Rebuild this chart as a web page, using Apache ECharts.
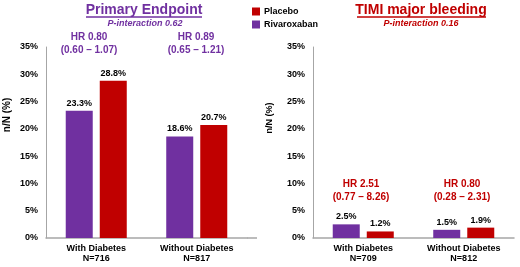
<!DOCTYPE html>
<html>
<head>
<meta charset="utf-8">
<script src="https://cdn.jsdelivr.net/npm/echarts@6/dist/echarts.min.js"></script>
<style>
  html, body { margin: 0; padding: 0; background: #fff; }
  #chart { width: 520px; height: 267px; }
</style>
</head>
<body>
<div id="chart"></div>
<script>
// data
var efficacyCats = ['With Diabetes\nN=716', 'Without Diabetes\nN=817']
var efficacyRiva = [23.3, 18.6]
var efficacyPlacebo = [28.8, 20.7]
var bleedCats = ['With Diabetes\nN=709', 'Without Diabetes\nN=812']
var bleedRiva = [2.5, 1.5]
var bleedPlacebo = [1.2, 1.9]
var efficacyHR = ['HR 0.80\n(0.60 – 1.07)', 'HR 0.89\n(0.65 – 1.21)']
var bleedHR = ['HR 2.51\n(0.77 – 8.26)', 'HR 0.80\n(0.28 – 2.31)']

var PURPLE = '#7030A0'
var RED = '#C00000'
var FONT = '"Liberation Sans", Arial, sans-serif'

function yAxisCfg (idx) {
  return {
    type: 'value',
    gridIndex: idx,
    min: 0,
    max: 35,
    interval: 5,
    axisLine: { show: true, lineStyle: { color: '#a6a6a6', width: 1 } },
    axisTick: { show: false },
    splitLine: { show: false },
    axisLabel: {
      formatter: '{value}%',
      margin: 8,
      color: '#000',
      fontFamily: FONT,
      fontWeight: 'bold',
      fontSize: 9
    }
  }
}

function xAxisCfg (idx, cats) {
  return {
    type: 'category',
    gridIndex: idx,
    data: cats,
    axisLine: { lineStyle: { color: '#a6a6a6', width: 1.5 } },
    axisTick: { show: false },
    axisLabel: {
      margin: 6,
      lineHeight: 10,
      color: '#000',
      fontFamily: FONT,
      fontWeight: 'bold',
      fontSize: 9
    }
  }
}

function barSeries (name, idx, data, color) {
  return {
    name: name,
    type: 'bar',
    xAxisIndex: idx,
    yAxisIndex: idx,
    data: data,
    barWidth: 27,
    barGap: '26%',
    itemStyle: { color: color },
    label: {
      show: true,
      position: 'top',
      distance: 3,
      formatter: '{c}%',
      color: '#000',
      fontFamily: FONT,
      fontWeight: 'bold',
      fontSize: 9
    }
  }
}

function txt (x, y, text, size, color, extra) {
  var st = {
    x: x,
    y: y,
    text: text,
    fill: color,
    font: (extra && extra.italic ? 'italic ' : '') + 'bold ' + size + 'px ' + FONT,
    textAlign: 'center',
    textVerticalAlign: 'middle',
    lineHeight: (extra && extra.lh) || size
  }
  var el = { type: 'text', style: st }
  if (extra && extra.rotate) {
    el.rotation = extra.rotate
    el.x = x
    el.y = y
    st.x = 0
    st.y = 0
  }
  return el
}

var chart = echarts.init(document.getElementById('chart'))
chart.setOption({
  animation: false,
  legend: {
    data: ['Placebo', 'Rivaroxaban'],
    orient: 'vertical',
    left: 252,
    top: 7,
    padding: 0,
    itemWidth: 8,
    itemHeight: 8,
    itemGap: 4,
    icon: 'rect',
    textStyle: {
      color: '#000',
      fontFamily: FONT,
      fontWeight: 'bold',
      fontSize: 9,
      padding: [0, 0, 0, -1]
    }
  },
  grid: [
    { left: 46, top: 47, width: 201, height: 191 },
    { left: 313, top: 47, width: 201, height: 191 }
  ],
  xAxis: [xAxisCfg(0, efficacyCats), xAxisCfg(1, bleedCats)],
  yAxis: [yAxisCfg(0), yAxisCfg(1)],
  series: [
    barSeries('Rivaroxaban', 0, efficacyRiva, PURPLE),
    barSeries('Placebo', 0, efficacyPlacebo, RED),
    barSeries('Rivaroxaban', 1, bleedRiva, PURPLE),
    barSeries('Placebo', 1, bleedPlacebo, RED)
  ],
  graphic: [
    // x-axis lines run a little past the last category in the original
    { type: 'line', shape: { x1: 247, y1: 238, x2: 257, y2: 238 }, style: { stroke: '#a6a6a6', lineWidth: 1.5 } },
    txt(144, 10, 'Primary Endpoint', 14, PURPLE),
    { type: 'line', shape: { x1: 86, y1: 17, x2: 202, y2: 17 }, style: { stroke: PURPLE, lineWidth: 1.5 } },
    txt(145, 24, 'P-interaction 0.62', 9, PURPLE, { italic: true }),
    txt(89, 44, efficacyHR[0], 10, PURPLE, { lh: 13 }),
    txt(196, 44, efficacyHR[1], 10, PURPLE, { lh: 13 }),
    txt(421, 10, 'TIMI major bleeding', 14, RED),
    { type: 'line', shape: { x1: 357, y1: 17, x2: 486, y2: 17 }, style: { stroke: RED, lineWidth: 1.5 } },
    txt(421, 24, 'P-interaction 0.16', 9, RED, { italic: true }),
    txt(361, 191, bleedHR[0], 10, RED, { lh: 13 }),
    txt(462, 191, bleedHR[1], 10, RED, { lh: 13 }),
    txt(7, 115, 'n/N (%)', 10, '#000', { rotate: Math.PI / 2 }),
    txt(270, 118, 'n/N (%)', 9, '#000', { rotate: Math.PI / 2 })
  ]
})
</script>
</body>
</html>
